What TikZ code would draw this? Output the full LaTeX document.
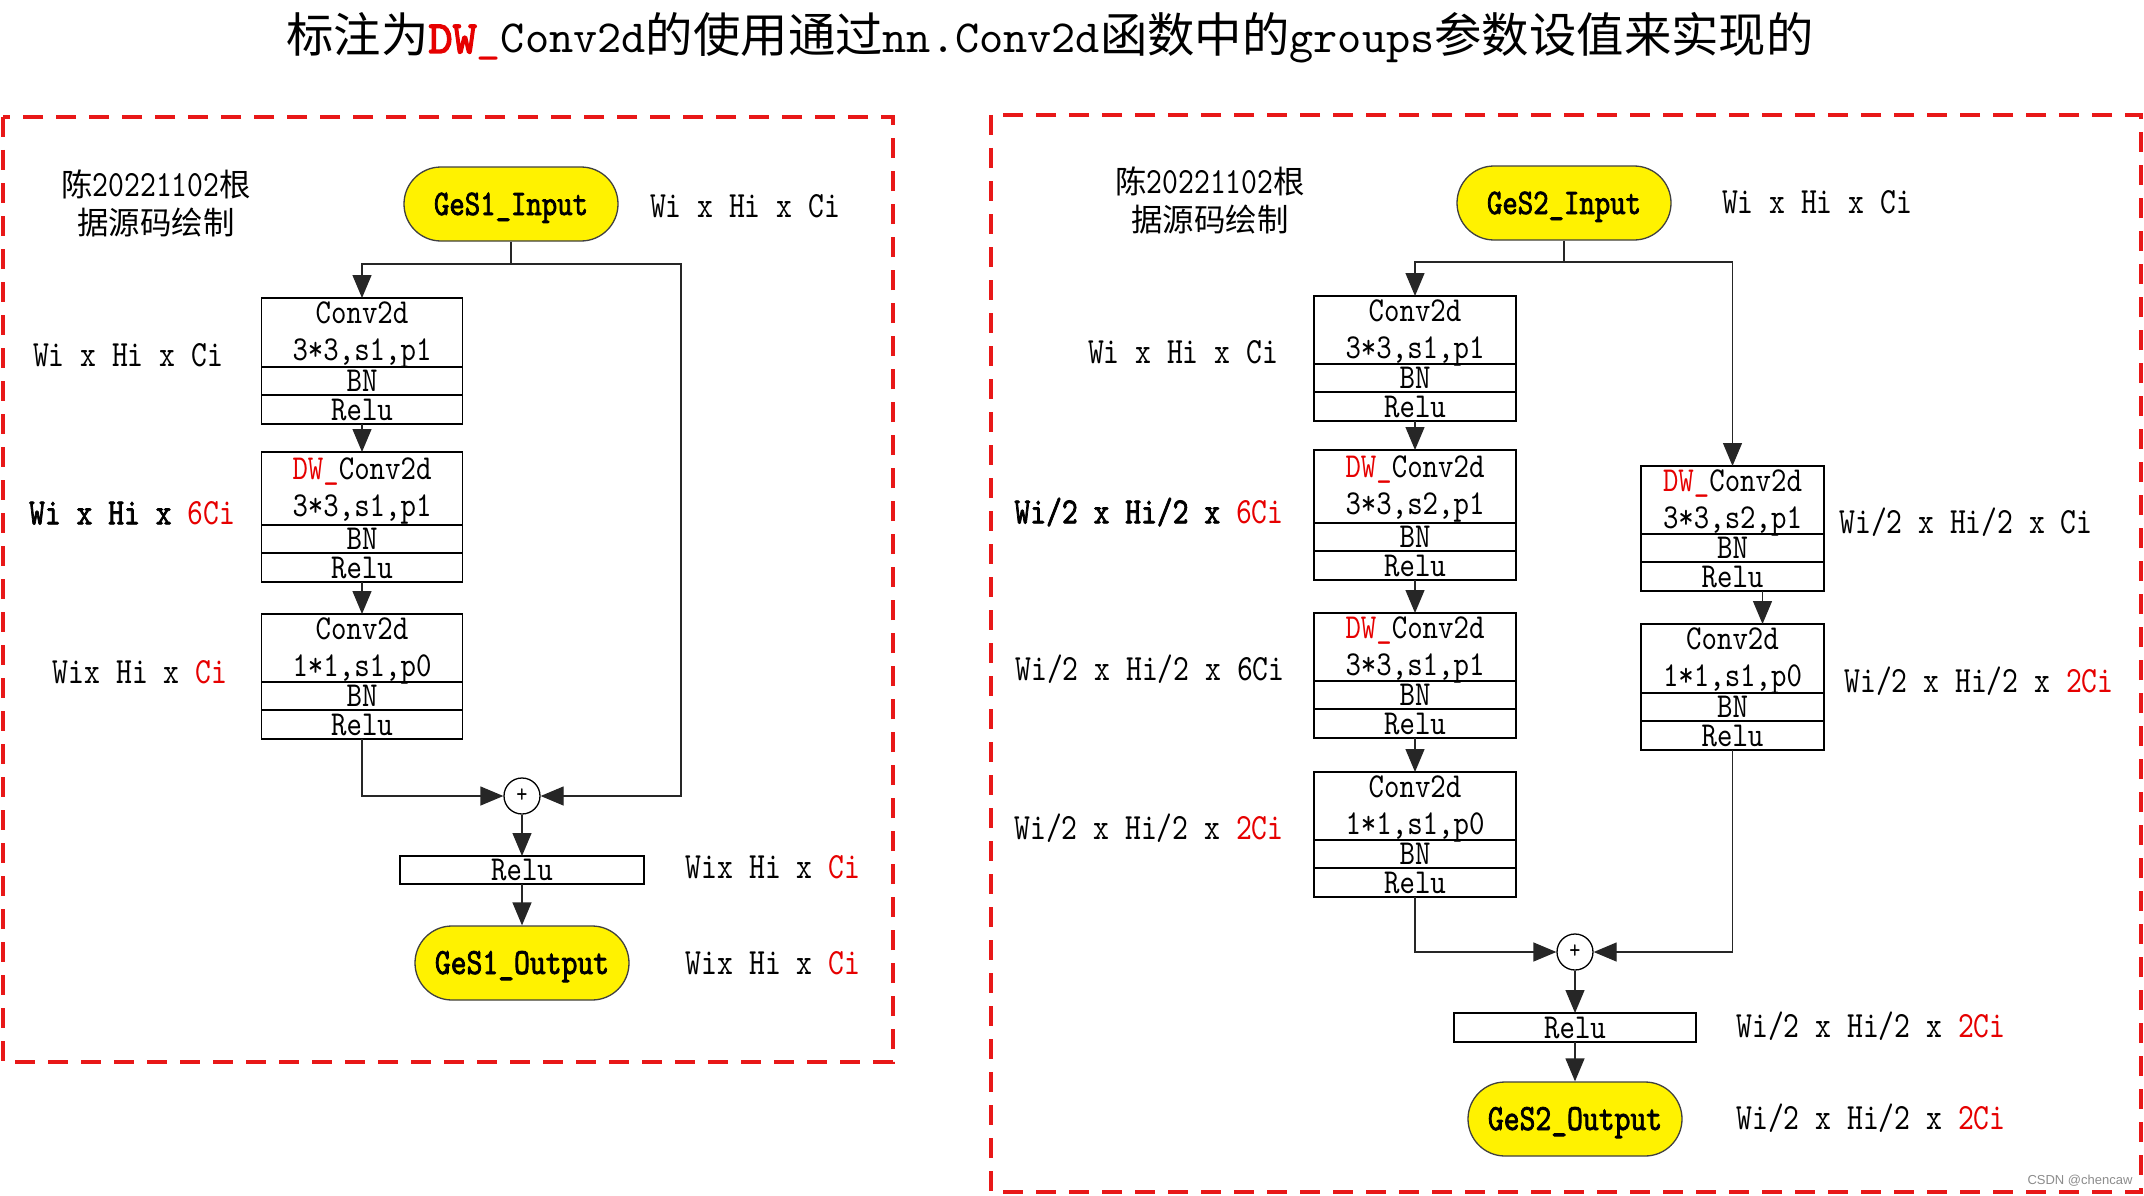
\documentclass[tikz,border=0pt]{standalone}
\usepackage{fontspec}
\usetikzlibrary{arrows.meta,shapes.misc,calc}
\newfontfamily\lab{lmmono10-regular}[Extension=.otf,FakeStretch=0.815]
\newfontfamily\labx{lmmono10-regular}[Extension=.otf,FakeStretch=0.84]
\newfontfamily\labb{lmmono10-regular}[Extension=.otf,FakeStretch=0.815,FakeBold=2]
\newfontfamily\ttl{lmmono10-regular}[Extension=.otf]
\newfontfamily\ttlb{lmmono10-regular}[Extension=.otf,FakeBold=3]
\newfontfamily\cjk{Noto Sans CJK SC}[Scale=0.85]
\newfontfamily\cjkt{Noto Sans CJK SC}[Scale=1.03]
\newfontfamily\wm{Liberation Sans}
\definecolor{dwred}{RGB}{230,0,0}
\definecolor{boxred}{RGB}{232,24,24}
\newcommand{\R}[1]{\textcolor{dwred}{#1}}
\tikzset{
  lbl/.style={inner sep=0pt, text height=22.7pt, text depth=0pt, font=\lab\fontsize{37}{39}\selectfont},
  btxt/.style={inner sep=0pt, text height=21.4pt, text depth=0pt, font=\labx\fontsize{35}{37}\selectfont},
  sect/.style={draw, line width=1.5pt, inner sep=0pt, outer sep=0pt, text height=21.4pt, text depth=0pt,
    font=\labx\fontsize{35}{37}\selectfont},
  io/.style={rounded rectangle, draw=black!75, line width=1.3pt, fill=yellow, minimum width=214pt,
    minimum height=74pt, inner sep=0pt, text height=22pt, text depth=0pt, font=\labb\fontsize{36}{38}\selectfont},
  plus/.style={circle, draw, line width=1.3pt, minimum size=36pt, inner sep=0pt, font=\lab\fontsize{26}{26}\selectfont},
  conn/.style={line width=1.3pt, draw=black!85},
  arr/.style={conn, -{Triangle[length=23pt,width=19pt]}},
  frame/.style={draw=boxred, line width=4pt, dash pattern=on 20pt off 13pt},
}
% #1 name, #2 x, #3 top y, #4 width, #5 top height, #6 line 1, #7 line 2
\newcommand{\convbox}[7]{%
  \node[sect, minimum width=#4pt, minimum height=#5pt, anchor=north] (#1c) at (#2,#3) {};
  \node[btxt] (#1t) at ($(#1c.center)+(0,-19.5)$) {#6};
  \node[btxt] (#1u) at ($(#1c.center)+(0,17.5)$) {#7};
  \node[sect, minimum width=#4pt, minimum height=28pt, anchor=north] (#1b) at (#1c.south) {BN};
  \node[sect, minimum width=#4pt, minimum height=29pt, anchor=north] (#1r) at (#1b.south) {Relu};
}
\begin{document}
\begin{tikzpicture}[x=1pt,y=-1pt]
\useasboundingbox (0,0) rectangle (2144,1196);
\fill[white] (0,0) rectangle (2144,1196);

% title
\node[inner sep=0pt, text height=28pt, text depth=0pt, font=\ttl\fontsize{46}{48}\selectfont] (title) at (1050,39)
  {{\cjkt 标注为}{\ttlb\color{dwred}DW}\R{\_}Conv2d{\cjkt 的使用通过}nn.Conv2d{\cjkt 函数中的}groups{\cjkt 参数设值来实现的}};

% frames
\draw[frame] (3,117) rectangle (893,1062);
\draw[frame] (991,115) rectangle (2141,1192);

% ---------------- left block ----------------
\node[lbl] (note1a) at (156,185) {{\cjk 陈}20221102{\cjk 根}};
\node[lbl] (note1b) at (156,223) {\cjk 据源码绘制};
\node[io] (in1) at (511,204) {GeS1\_Input};
\coordinate (s1) at (511,264);
\convbox{b1}{362}{298}{201}{69}{Conv2d}{3*3,s1,p1}
\convbox{b2}{362}{452}{201}{73}{\R{DW\_}Conv2d}{3*3,s1,p1}
\convbox{b3}{362}{614}{201}{68}{Conv2d}{1*1,s1,p0}
\node[plus] (c1) at (522,796) {+};
\coordinate (k1) at (681,796);
\node[sect, minimum width=244pt, minimum height=28pt] (r1) at (522,870) {Relu};
\node[io, font=\labb\fontsize{37}{39}\selectfont] (o1) at (522,963) {GeS1\_Output};

\draw[conn] (in1.south) -- (s1);
\draw[arr] (s1) -| (b1c.north);
\draw[arr] (s1) -| (k1) -- (c1.east);
\draw[arr] (b1r.south) -- (b2c.north);
\draw[arr] (b2r.south) -- (b3c.north);
\draw[arr] (b3r.south) |- (c1.west);
\draw[arr] (c1.south) -- (r1.north);
\draw[arr] (r1.south) -- (o1.north);

\node[lbl] (l1) at (745,206) {Wi x Hi x Ci};
\node[lbl] (l2) at (128,355) {Wi x Hi x Ci};
\node[lbl] (l3) at (132,513) {{\labb Wi x Hi x }\R{6Ci}};
\node[lbl] (l4) at (140,672) {Wix Hi x \R{Ci}};
\node[lbl] (l5) at (773,867) {Wix Hi x \R{Ci}};
\node[lbl] (l6) at (773,963) {Wix Hi x \R{Ci}};

% ---------------- right block ----------------
\node[lbl] (note2a) at (1210,182) {{\cjk 陈}20221102{\cjk 根}};
\node[lbl] (note2b) at (1210,220) {\cjk 据源码绘制};
\node[io] (in2) at (1564,203) {GeS2\_Input};
\coordinate (s2) at (1564,262);
\convbox{ba}{1415}{296}{202}{68}{Conv2d}{3*3,s1,p1}
\convbox{bb}{1415}{450}{202}{73}{\R{DW\_}Conv2d}{3*3,s2,p1}
\convbox{bc}{1415}{613}{202}{68}{\R{DW\_}Conv2d}{3*3,s1,p1}
\convbox{bd}{1415}{772}{202}{68}{Conv2d}{1*1,s1,p0}
\convbox{be}{1732.5}{466}{183}{68}{\R{DW\_}Conv2d}{3*3,s2,p1}
\convbox{bf}{1732.5}{624}{183}{69}{Conv2d}{1*1,s1,p0}
\node[plus] (c2) at (1575,952) {+};
\node[sect, minimum width=242pt, minimum height=29pt] (r2) at (1575,1027.5) {Relu};
\node[io, font=\labb\fontsize{37}{39}\selectfont] (o2) at (1575,1119) {GeS2\_Output};

\draw[conn] (in2.south) -- (s2);
\draw[arr] (s2) -| (bac.north);
\draw[arr] (s2) -| (bec.north);
\draw[arr] (bar.south) -- (bbc.north);
\draw[arr] (bbr.south) -- (bcc.north);
\draw[arr] (bcr.south) -- (bdc.north);
\draw[arr] ([xshift=30pt]ber.south) -- ([xshift=30pt]bfc.north);
\draw[arr] (bdr.south) |- (c2.west);
\draw[arr] (bfr.south) |- (c2.east);
\draw[arr] (c2.south) -- (r2.north);
\draw[arr] (r2.south) -- (o2.north);

\node[lbl] (m1) at (1817,202) {Wi x Hi x Ci};
\node[lbl] (m2) at (1183,352) {Wi x Hi x Ci};
\node[lbl] (m3) at (1149,512) {{\labb Wi/2 x Hi/2 x }\R{6Ci}};
\node[lbl] (m4) at (1966,522) {Wi/2 x Hi/2 x Ci};
\node[lbl] (m5) at (1150,669) {Wi/2 x Hi/2 x 6Ci};
\node[lbl] (m6) at (1979,681) {Wi/2 x Hi/2 x \R{2Ci}};
\node[lbl] (m7) at (1149,828) {Wi/2 x Hi/2 x \R{2Ci}};
\node[lbl] (m8) at (1871,1026) {Wi/2 x Hi/2 x \R{2Ci}};
\node[lbl] (m9) at (1871,1118) {Wi/2 x Hi/2 x \R{2Ci}};

\node[inner sep=0pt, font=\wm\fontsize{13}{13}\selectfont, text=black!45] (wmk) at (2080,1181) {CSDN @chencaw};
\end{tikzpicture}
\end{document}
